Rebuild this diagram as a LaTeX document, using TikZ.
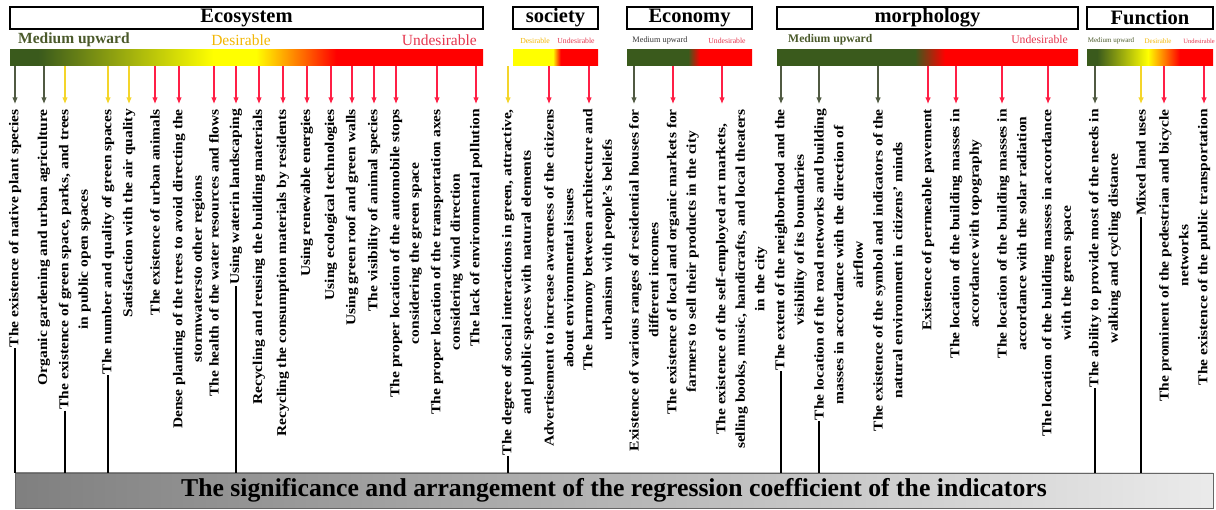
\documentclass[tikz,border=0pt]{standalone}
\usepackage{fontspec}
\setmainfont{Liberation Serif}
\usepackage{tikz}
\usetikzlibrary{arrows.meta,positioning,calc}
\definecolor{midGreen}{HTML}{3A5A1C}
\definecolor{barYellow}{HTML}{FFFF00}
\definecolor{barRed}{HTML}{FF0000}
\definecolor{midArrow}{HTML}{505A42}
\definecolor{desArrow}{HTML}{F4D52A}
\definecolor{undArrow}{HTML}{FF1F45}
\definecolor{midText}{HTML}{4B5A2B}
\definecolor{desText}{HTML}{F2B705}
\definecolor{undText}{HTML}{E5374F}

\pgfdeclarehorizontalshading{ecoShade}{100bp}{color(0bp)=(midGreen); color(28bp)=(midGreen); color(46.5bp)=(barYellow); color(51bp)=(barYellow); color(59.5bp)=(barRed); color(100bp)=(barRed)}
\pgfdeclarehorizontalshading{socShade}{100bp}{color(0bp)=(barYellow); color(48.5bp)=(barYellow); color(53bp)=(barRed); color(100bp)=(barRed)}
\pgfdeclarehorizontalshading{econShade}{100bp}{color(0bp)=(midGreen); color(49.4bp)=(midGreen); color(54.2bp)=(barRed); color(100bp)=(barRed)}
\pgfdeclarehorizontalshading{morShade}{100bp}{color(0bp)=(midGreen); color(47.9bp)=(midGreen); color(52.9bp)=(barRed); color(100bp)=(barRed)}
\pgfdeclarehorizontalshading{funShade}{100bp}{color(0bp)=(midGreen); color(29bp)=(midGreen); color(49.2bp)=(barYellow); color(61.9bp)=(barRed); color(100bp)=(barRed)}

\tikzset{
  hdr/.style={draw, line width=1.4pt, fill=white, minimum height=22, inner sep=0pt, font=\fontsize{20.5}{21}\selectfont\bfseries},
  gradBar/.style={shade, minimum height=16, inner sep=0pt},
  legTxt/.style={inner sep=0pt},
  arr/.style={->, line width=1.1pt, >={Latex[length=6.5pt,width=5.5pt]}},
  lbl/.style={rotate=90, yscale=0.87, anchor=east, align=center, inner sep=1pt, font=\fontsize{15.5}{22.5}\selectfont\bfseries},
  sig/.style={line width=1.8pt},
  baseBox/.style={draw=black!60, left color=black!50, right color=black!8, minimum width=1198, minimum height=35, inner sep=0pt, font=\fontsize{25.7}{27}\selectfont\bfseries}
}

\begin{document}
\begin{tikzpicture}[x=1pt,y=-1pt,>=Latex]
  \useasboundingbox (0,0) rectangle (1216,510);

  \node[hdr, minimum width=473] (ecoHdr) at (246.5,18) {Ecosystem};
  \node[hdr, minimum width=85] (socHdr) at (555.5,18) {society};
  \node[hdr, minimum width=125] (econHdr) at (689.5,18) {Economy};
  \node[hdr, minimum width=301] (morHdr) at (927.5,18) {morphology};
  \node[hdr, minimum width=126] (funHdr) at (1150,18) {Function};

  \node[gradBar, shading=ecoShade, minimum width=473] (ecoBar) at (246.5,58) {};
  \node[gradBar, shading=socShade, minimum width=85] (socBar) at (555.5,58) {};
  \node[gradBar, shading=econShade, minimum width=125] (econBar) at (689.5,58) {};
  \node[gradBar, shading=morShade, minimum width=301] (morBar) at (927.5,58) {};
  \node[gradBar, shading=funShade, minimum width=126] (funBar) at (1150,58) {};

  \node[legTxt, anchor=west, text=midText, font=\fontsize{15.5}{16}\selectfont\bfseries] (ecoMid) at (18,40) {Medium upward};
  \node[legTxt, text=desText, font=\fontsize{15.5}{16}\selectfont] (ecoDes) at (241,40) {Desirable};
  \node[legTxt, anchor=east, text=undText, font=\fontsize{15.5}{16}\selectfont] (ecoUnd) at (477,40) {Undesirable};
  \node[legTxt, text=desText, font=\fontsize{7.7}{8}\selectfont] (socDes) at (535,41) {Desirable};
  \node[legTxt, text=undText, font=\fontsize{7.7}{8}\selectfont] (socUnd) at (576,41) {Undesirable};
  \node[legTxt, text=black!80, font=\fontsize{8.3}{9}\selectfont] (econMid) at (660,41) {Medium upward};
  \node[legTxt, text=undText, font=\fontsize{7.7}{8}\selectfont] (econUnd) at (727,41) {Undesirable};
  \node[legTxt, anchor=west, text=midText, font=\fontsize{11.7}{12}\selectfont\bfseries] (morMid) at (788,40) {Medium upward};
  \node[legTxt, anchor=east, text=undText, font=\fontsize{11.7}{12}\selectfont] (morUnd) at (1068,40) {Undesirable};
  \node[legTxt, text=midText, font=\fontsize{7}{8}\selectfont] (funMid) at (1111,41) {Medium upward};
  \node[legTxt, text=desText, font=\fontsize{7}{8}\selectfont] (funDes) at (1158,41) {Desirable};
  \node[legTxt, text=undText, font=\fontsize{6.5}{7}\selectfont] (funUnd) at (1199,41) {Undesirable};

  \node[baseBox] (base) at (614,490.5) {The significance and arrangement of the regression coefficient of the indicators};

  \foreach \i/\x/\nl/\col/\txt in {
    1/15/1/midArrow/{The existence of native plant species},
    2/44/1/midArrow/{Organic gardening and urban agriculture},
    3/65/2/desArrow/{The existence of green space, parks, and trees\\in public open spaces},
    4/108/1/desArrow/{The number and quality of green spaces},
    5/129/1/desArrow/{Satisfaction with the air quality},
    6/155/1/undArrow/{The existence of urban animals},
    7/179/2/undArrow/{Dense planting of the trees to avoid directing the\\stormwatersto other regions},
    8/214/1/undArrow/{The health of the water resources and flows},
    9/236/1/undArrow/{Using waterin landscaping},
    10/259/1/undArrow/{Recycling and reusing the building materials},
    11/283/1/undArrow/{Recycling the consumption materials by residents},
    12/307/1/undArrow/{Using renewable energies},
    13/331/1/undArrow/{Using ecological technologies},
    14/352/1/undArrow/{Using green roof and green walls},
    15/374/1/undArrow/{The visibility of animal species},
    16/396/2/undArrow/{The proper location of the automobile stops\\considering the green space},
    17/437/2/undArrow/{The proper location of the transportation axes\\considering wind direction},
    18/476/1/undArrow/{The lack of environmental pollution}} {
    \coordinate (t\i) at (\x,104);
    \draw[arr,\col] (t\i |- ecoBar.south) -- (t\i);
    \pgfmathsetmacro\xc{\x+(\nl-1)*9.8}
    \node[lbl] (l\i) at (\xc,108) {\txt};
  }

  \foreach \i/\x/\nl/\col/\txt in {
    19/508/2/desArrow/{The degree of social interactions in green, attractive,\\and public spaces with natural elements},
    20/549/2/undArrow/{Advertisement to increase awareness of the citizens\\about environmental issues},
    21/589/2/undArrow/{The harmony between architecture and\\urbanism with people's beliefs}} {
    \coordinate (t\i) at (\x,104);
    \draw[arr,\col] (t\i |- socBar.south) -- (t\i);
    \pgfmathsetmacro\xc{\x+(\nl-1)*9.8}
    \node[lbl] (l\i) at (\xc,108) {\txt};
  }

  \foreach \i/\x/\nl/\col/\txt in {
    22/634/2/midArrow/{Existence of various ranges of residential houses for\\different incomes},
    23/673/2/undArrow/{The existence of local and organic markets for\\farmers to sell their products in the city},
    24/722/3/undArrow/{The existence of the self-employed art markets,\\selling books, music, handicrafts, and local theaters\\in the city}} {
    \coordinate (t\i) at (\x,104);
    \draw[arr,\col] (t\i |- econBar.south) -- (t\i);
    \pgfmathsetmacro\xc{\x+(\nl-1)*9.8}
    \node[lbl] (l\i) at (\xc,108) {\txt};
  }

  \foreach \i/\x/\nl/\col/\txt in {
    25/781/2/midArrow/{The extent of the neighborhood and the\\visibility of its boundaries},
    26/819/3/midArrow/{The location of the road networks and building\\masses in accordance with the direction of\\airflow},
    27/878/2/midArrow/{The existence of the symbol and indicators of the\\natural environment in citizens' minds},
    28/928/1/undArrow/{Existence of permeable pavement},
    29/956/2/undArrow/{The location of the building masses in\\accordance with topography},
    30/1002/2/undArrow/{The location of the building masses in\\accordance with the solar radiation},
    31/1048/2/undArrow/{The location of the building masses in accordance\\with the green space}} {
    \coordinate (t\i) at (\x,104);
    \draw[arr,\col] (t\i |- morBar.south) -- (t\i);
    \pgfmathsetmacro\xc{\x+(\nl-1)*9.8}
    \node[lbl] (l\i) at (\xc,108) {\txt};
  }

  \foreach \i/\x/\nl/\col/\txt in {
    32/1095/2/midArrow/{The ability to provide most of the needs in\\walking and cycling distance},
    33/1141/1/desArrow/{Mixed land uses},
    34/1164/2/undArrow/{The prominent of the pedestrian and bicycle\\networks},
    35/1204/1/undArrow/{The existence of the public transportation}} {
    \coordinate (t\i) at (\x,104);
    \draw[arr,\col] (t\i |- funBar.south) -- (t\i);
    \pgfmathsetmacro\xc{\x+(\nl-1)*9.8}
    \node[lbl] (l\i) at (\xc,108) {\txt};
  }

  \foreach \i in {1,3,4,9,19,25,26,32,33}
    \draw[sig] (l\i.west -| t\i) -- (t\i |- base.north);
\end{tikzpicture}
\end{document}
